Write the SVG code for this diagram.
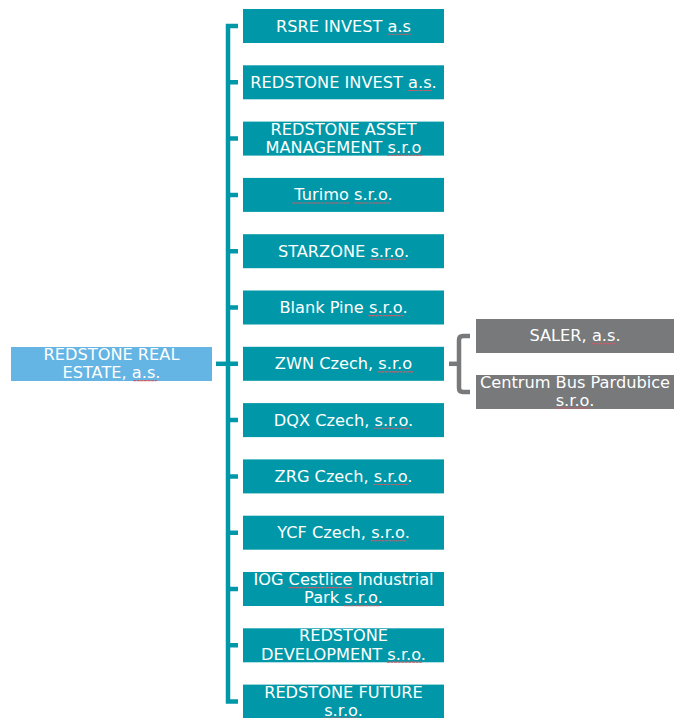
<svg xmlns="http://www.w3.org/2000/svg" width="674" height="718" viewBox="0 0 674 718">
<style>
.box{fill:#0098a8}
.root{fill:#64b4e4}
.gray{fill:#77797b}
.t{font-family:"DejaVu Sans","Liberation Sans",Arial,sans-serif;font-size:16.2px;fill:#ffffff;text-anchor:middle}
.c{fill:none;stroke:#0098a8;stroke-width:4.5;stroke-linejoin:miter}
.cg{fill:none;stroke:#77797b;stroke-width:4.5}
.sp{fill:none;stroke:#c8606c;stroke-width:1.1;stroke-dasharray:3 0.6}
</style>
<rect width="674" height="718" fill="#ffffff"/>
<g id="connectors">
<path class="c" d="M238,26 H228 V701.6 H238"/>
<path class="c" d="M216,363.8 H228"/>
<path class="c" d="M228,82.3 H238 M228,138.6 H238 M228,194.9 H238 M228,251.2 H238 M228,307.5 H238 M228,363.8 H238 M228,420.1 H238 M228,476.4 H238 M228,532.7 H238 M228,589 H238 M228,645.3 H238"/>
<path class="cg" d="M470,336 H463 Q459,336 459,340 V388 Q459,392 463,392 H470"/>
<path class="cg" d="M449,363.8 H459"/>
</g>
<g id="root">
<rect class="root" x="11" y="347" width="201" height="34"/>
<text class="t" x="111.5" y="359.5">REDSTONE REAL</text>
<text class="t" x="111.5" y="378">ESTATE, a.s.</text>
</g>
<g id="n1"><rect class="box" x="243" y="9" width="201" height="34"/><text class="t" x="343.5" y="31.5">RSRE INVEST a.s</text></g>
<g id="n2"><rect class="box" x="243" y="65.3" width="201" height="34"/><text class="t" x="343.5" y="87.8">REDSTONE INVEST a.s.</text></g>
<g id="n3"><rect class="box" x="243" y="121.6" width="201" height="34"/><text class="t" x="343.5" y="134.6">REDSTONE ASSET</text><text class="t" x="343.5" y="152.6">MANAGEMENT s.r.o</text></g>
<g id="n4"><rect class="box" x="243" y="177.9" width="201" height="34"/><text class="t" x="343.5" y="200.4">Turimo s.r.o.</text></g>
<g id="n5"><rect class="box" x="243" y="234.2" width="201" height="34"/><text class="t" x="343.5" y="256.7">STARZONE s.r.o.</text></g>
<g id="n6"><rect class="box" x="243" y="290.5" width="201" height="34"/><text class="t" x="343.5" y="313">Blank Pine s.r.o.</text></g>
<g id="n7"><rect class="box" x="243" y="346.8" width="201" height="34"/><text class="t" x="343.5" y="369.3">ZWN Czech, s.r.o</text></g>
<g id="n8"><rect class="box" x="243" y="403.1" width="201" height="34"/><text class="t" x="343.5" y="425.6">DQX Czech, s.r.o.</text></g>
<g id="n9"><rect class="box" x="243" y="459.4" width="201" height="34"/><text class="t" x="343.5" y="481.9">ZRG Czech, s.r.o.</text></g>
<g id="n10"><rect class="box" x="243" y="515.7" width="201" height="34"/><text class="t" x="343.5" y="538.2">YCF Czech, s.r.o.</text></g>
<g id="n11"><rect class="box" x="243" y="572" width="201" height="34"/><text class="t" x="343.5" y="585">IOG Cestlice Industrial</text><text class="t" x="343.5" y="603.2">Park s.r.o.</text></g>
<g id="n12"><rect class="box" x="243" y="628.3" width="201" height="34"/><text class="t" x="343.5" y="641.3">REDSTONE</text><text class="t" x="343.5" y="659.5">DEVELOPMENT s.r.o.</text></g>
<g id="n13"><rect class="box" x="243" y="684.6" width="201" height="34"/><text class="t" x="343.5" y="697.5">REDSTONE FUTURE</text><text class="t" x="343.5" y="715.8">s.r.o.</text></g>
<g id="s1"><rect class="gray" x="476" y="319" width="198" height="34"/><text class="t" x="575" y="341">SALER, a.s.</text></g>
<g id="s2"><rect class="gray" x="476" y="375" width="198" height="34"/><text class="t" x="575" y="387.7">Centrum Bus Pardubice</text><text class="t" x="575" y="405.5">s.r.o.</text></g>
<g id="spellmarks">
<path class="sp" d="M387.6,34.2 H411.1 M408.2,90.5 H431.7 M387.1,155.2 H422.4 M292.2,203 H349.2 M354.4,203 H389.7 M370.2,259.3 H405.5 M368.3,315.6 H403.6 M377.7,371.9 H413 M373.6,428.2 H409 M372.9,484.5 H408.3 M370.7,540.8 H406.1 M288.6,587.6 H352.5 M343.7,605.8 H379 M386.8,662.1 H422.1 M323.3,718 H358.6 M133.1,380.6 H156.7 M591.8,343.6 H615.3 M554.8,408 H590.1"/>
</g>
</svg>
